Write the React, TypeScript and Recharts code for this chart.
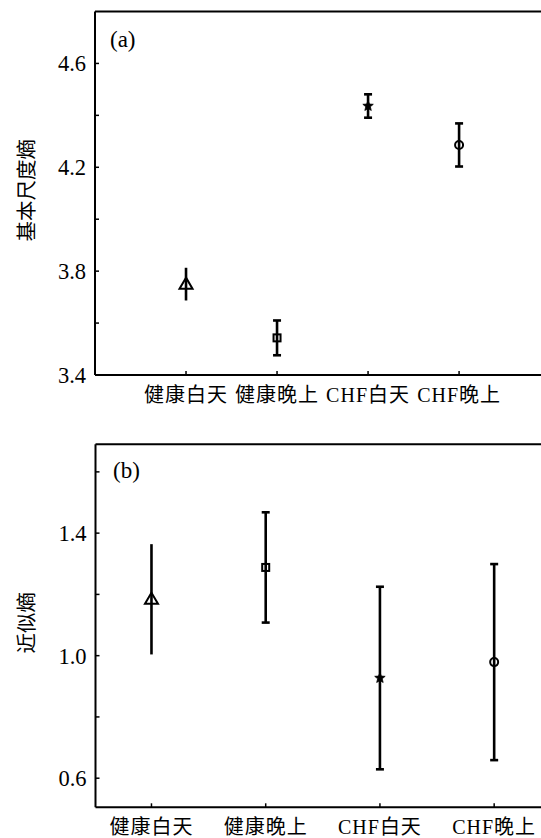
import { ComposedChart, ErrorBar, ReferenceLine, Scatter, XAxis, YAxis } from 'recharts'

const categories = ['健康白天', '健康晚上', 'CHF白天', 'CHF晚上']
const markers = ['triangle', 'square', 'star', 'circle']

// (a) basic scale entropy, mean and half error
const basicScaleEntropy = [3.75, 3.543, 4.436, 4.286]
const basicScaleError = [0.063, 0.067, 0.045, 0.083]

// (b) approximate entropy
const approxEntropy = [1.184, 1.288, 0.927, 0.979]
const approxError = [0.18, 0.18, 0.298, 0.32]

const yTicksA = [3.4, 3.6, 3.8, 4.0, 4.2, 4.4, 4.6]
const yLabelsA = [3.4, 3.8, 4.2, 4.6]
const yTicksB = [0.6, 0.8, 1.0, 1.2, 1.4, 1.6]
const yLabelsB = [0.6, 1.0, 1.4]
const xTicks = [1, 2, 3, 4]

const serif = "'Liberation Serif', 'Noto Sans CJK SC', serif"
const AXIS = { stroke: '#000', strokeWidth: 2 }

function Marker(props: any) {
  const { cx, cy, kind } = props
  if (cx == null || cy == null) return null
  const s = { fill: 'none', stroke: '#000', strokeWidth: 2 }
  if (kind === 'triangle') {
    return <path d={`M${cx},${cy - 6.5} L${cx + 6.5},${cy + 4.5} L${cx - 6.5},${cy + 4.5} Z`} {...s} />
  }
  if (kind === 'square') {
    return <rect x={cx - 3.5} y={cy - 3.5} width={7} height={7} {...s} />
  }
  if (kind === 'circle') {
    return <circle cx={cx} cy={cy} r={4} {...s} />
  }
  const pts: string[] = []
  for (let i = 0; i < 10; i++) {
    const r = i % 2 === 0 ? 5.5 : 2.4
    const a = -Math.PI / 2 + (i * Math.PI) / 5
    pts.push(`${cx + r * Math.cos(a)},${cy + r * Math.sin(a)}`)
  }
  return <polygon points={pts.join(' ')} fill="#000" stroke="#000" strokeWidth={0.8} />
}

function YTick(props: any) {
  const { x, y, payload, labels } = props
  const v = payload.value
  const show = labels.some((l: number) => Math.abs(l - v) < 1e-6)
  return (
    <g>
      <line x1={x + 9} x2={x + 13} y1={y} y2={y} stroke="#000" strokeWidth={1.5} />
      {show && (
        <text x={x} y={y + 8} textAnchor="end" fontFamily={serif} fontSize={22.5} fill="#000">
          {v.toFixed(1)}
        </text>
      )}
    </g>
  )
}

function XTick(props: any) {
  const { x, y, payload } = props
  return (
    <g>
      <line x1={x} x2={x} y1={y - 8} y2={y - 12} stroke="#000" strokeWidth={1.5} />
      <text
        x={x}
        y={y + 19}
        textAnchor="middle"
        fontFamily={serif}
        fontSize={20}
        letterSpacing={1}
        fill="#000"
      >
        {categories[payload.value - 1]}
      </text>
    </g>
  )
}

function YTitle(text: string) {
  return (props: any) => {
    const vb = props.viewBox || {}
    const cy = (vb.y ?? 0) + (vb.height ?? 0) / 2
    return (
      <text
        transform={`translate(25, ${cy - 3}) rotate(-90)`}
        textAnchor="middle"
        dominantBaseline="central"
        fontFamily="'Noto Sans CJK SC', sans-serif"
        fontSize={20.5}
        fill="#000"
      >
        {text}
      </text>
    )
  }
}

type PanelProps = {
  values: number[]
  errors: number[]
  yDomain: [number, number]
  xDomain: [number, number]
  yTicks: number[]
  yLabels: number[]
  title: string
  height: number
  top: number
  xAxisHeight: number
  yAxisWidth: number
}

function Panel(p: PanelProps) {
  return (
    <ComposedChart
      width={541}
      height={p.height}
      margin={{ top: p.top, right: 0, bottom: 0, left: 0 }}
    >
      <XAxis
        type="number"
        dataKey="x"
        domain={p.xDomain}
        ticks={xTicks}
        allowDataOverflow
        axisLine={AXIS}
        tickLine={false}
        tickSize={0}
        tickMargin={8}
        height={p.xAxisHeight}
        tick={<XTick />}
        interval={0}
      />
      <YAxis
        type="number"
        dataKey="y"
        domain={p.yDomain}
        ticks={p.yTicks}
        allowDataOverflow
        axisLine={AXIS}
        tickLine={false}
        tickSize={0}
        tickMargin={9}
        width={p.yAxisWidth}
        interval={0}
        tick={<YTick labels={p.yLabels} />}
        label={YTitle(p.title)}
      />
      {/* top frame */}
      <ReferenceLine y={p.yDomain[1]} stroke="#000" strokeWidth={2} ifOverflow="visible" />
      {categories.map((c, i) => (
        <Scatter
          key={c}
          name={c}
          data={[{ x: i + 1, y: p.values[i], err: p.errors[i] }]}
          isAnimationActive={false}
          shape={(s: any) => <Marker {...s} kind={markers[i]} />}
        >
          <ErrorBar
            dataKey="err"
            direction="y"
            width={markers[i] === 'triangle' ? 0 : 4}
            stroke="#000"
            strokeWidth={2.6}
            isAnimationActive={false}
          />
        </Scatter>
      ))}
    </ComposedChart>
  )
}

export default function App() {
  return (
    <div style={{ position: 'absolute', left: 0, top: 0, width: 541, height: 838, background: '#fff', overflow: 'hidden' }}>
      <div style={{ position: 'absolute', left: 0, top: 0 }}>
        <Panel
          values={basicScaleEntropy}
          errors={basicScaleError}
          yDomain={[3.4, 4.8]}
          xDomain={[0, 4.9]}
          yTicks={yTicksA}
          yLabels={yLabelsA}
          title="基本尺度熵"
          height={410}
          top={11.5}
          xAxisHeight={35}
          yAxisWidth={95}
        />
      </div>
      <div style={{ position: 'absolute', left: 0, top: 420 }}>
        <Panel
          values={approxEntropy}
          errors={approxError}
          yDomain={[0.505, 1.69]}
          xDomain={[0.51, 4.41]}
          yTicks={yTicksB}
          yLabels={yLabelsB}
          title="近似熵"
          height={418}
          top={24.3}
          xAxisHeight={30.7}
          yAxisWidth={95.5}
        />
      </div>
      <div style={{ position: 'absolute', left: 110, top: 27, fontFamily: serif, fontSize: 23, lineHeight: '26px' }}>(a)</div>
      <div style={{ position: 'absolute', left: 113, top: 458, fontFamily: serif, fontSize: 23, lineHeight: '26px' }}>(b)</div>
    </div>
  )
}
